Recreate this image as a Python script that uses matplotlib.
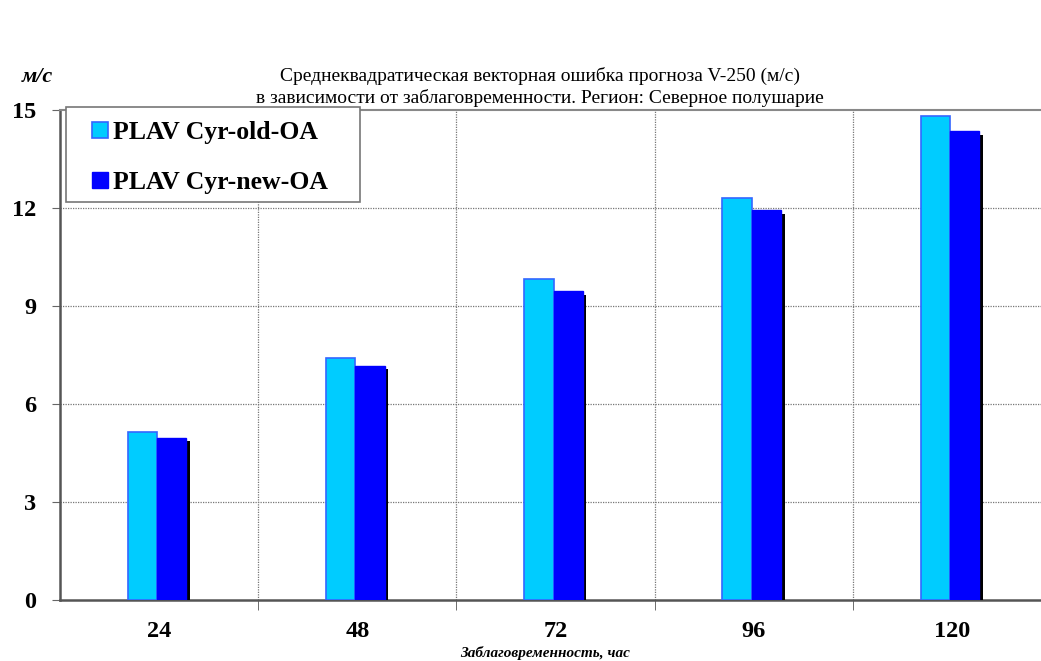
import matplotlib
matplotlib.use("Agg")
import matplotlib.pyplot as plt
import matplotlib.patheffects as pe
from matplotlib.patches import Rectangle
import numpy as np

categories = ["24", "48", "72", "96", "120"]
old_vals = [5.15, 7.42, 9.82, 12.30, 14.83]
new_vals = [4.97, 7.17, 9.45, 11.93, 14.35]
series_names = ["PLAV Cyr-old-OA", "PLAV Cyr-new-OA"]
yticks = [0, 3, 6, 9, 12, 15]

serif = ["Liberation Serif", "DejaVu Serif"]
W, H = 1041, 661

fig = plt.figure(figsize=(10.41, 6.61), dpi=100)
ax = fig.add_axes([60/W, 1-600/H, (1051-60)/W, (600-110)/H])

x = np.arange(len(categories))
w = 0.148
shadow = [pe.SimplePatchShadow(offset=(2.5, -2.5), shadow_rgbFace="black", alpha=1.0), pe.Normal()]
b1 = ax.bar(x - w/2 - 0.01, old_vals, w, color="#00CCFF", edgecolor="#3366FF", linewidth=1.2,
            label=series_names[0], zorder=3)
b2 = ax.bar(x + w/2 - 0.01, new_vals, w, color="#0000FF", edgecolor="#0000FF", linewidth=1.0,
            label=series_names[1], zorder=3, path_effects=shadow)

ax.set_xlim(-0.5, 4.5)
ax.set_ylim(0, 15)
ax.set_yticks(yticks)
ax.set_yticklabels([str(t) for t in yticks], fontfamily=serif, fontweight="bold", fontsize=17.5)
ax.set_xticks(x)
ax.set_xticklabels(categories, fontfamily=serif, fontweight="bold", fontsize=17.5)
ax.tick_params(axis="x", length=0, pad=15)
ax.tick_params(axis="y", length=6, direction="out", color="#666666", pad=11)

# category boundary ticks and vertical gridlines
bounds = np.arange(0.5, 4.5, 1.0)
ax.set_xticks(bounds, minor=True)
ax.tick_params(axis="x", which="minor", length=7, color="#555555", direction="out")
for b in bounds:
    ax.axvline(b, color="#777777", linestyle=(0, (1, 1)), linewidth=0.9, zorder=1)
for t in yticks[1:-1]:
    ax.axhline(t, color="#777777", linestyle=(0, (1, 1)), linewidth=0.9, zorder=1)

for s in ["left", "bottom"]:
    ax.spines[s].set_color("#555555")
    ax.spines[s].set_linewidth(1.8)
ax.spines["top"].set_color("#888888")
ax.spines["top"].set_linewidth(1.5)
ax.spines["right"].set_visible(False)

# legend frame
frame = Rectangle((66/W, 1-202/H), (360-66)/W, (202-107)/H, transform=fig.transFigure,
                  facecolor="white", edgecolor="#777777", linewidth=1.2, zorder=5)
fig.add_artist(frame)
leg = fig.legend(loc="upper left", bbox_to_anchor=(92/W, 1-121/H), bbox_transform=fig.transFigure,
                 prop={"family": serif, "weight": "bold", "size": 18.5},
                 frameon=False, handlelength=0.62, handleheight=0.62,
                 handletextpad=0.2, labelspacing=1.05, borderpad=0, borderaxespad=0)
leg.set_zorder(6)
for h in leg.legend_handles:
    h.set_path_effects([])

fig.text(540/W, 1-76/H, "Среднеквадратическая векторная ошибка прогноза V-250 (м/с)",
         ha="center", va="center", fontfamily=serif, fontsize=14)
fig.text(540/W, 1-98/H, "в зависимости от заблаговременности. Регион: Северное полушарие",
         ha="center", va="center", fontfamily=serif, fontsize=14)
fig.text(37/W, 1-77/H, "м/с", ha="center", va="center", fontfamily=serif, fontweight="bold",
         fontstyle="italic", fontsize=16)
fig.text(545/W, 1-653/H, "Заблаговременность, час", ha="center", va="center", fontfamily=serif,
         fontweight="bold", fontstyle="italic", fontsize=11)

fig.savefig("out.png", dpi=100)
